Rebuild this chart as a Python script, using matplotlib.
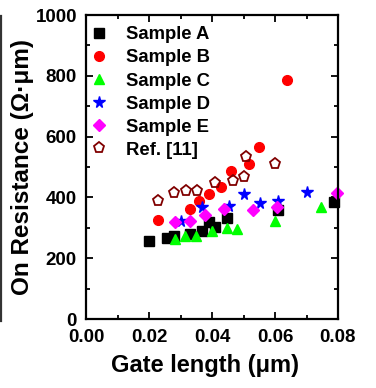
import matplotlib
matplotlib.use("Agg")
import matplotlib.pyplot as plt
from matplotlib.ticker import MultipleLocator
from matplotlib.lines import Line2D

plt.rcParams['font.family'] = ['Liberation Sans', 'DejaVu Sans']
plt.rcParams['font.weight'] = 'bold'

a_x = [0.020, 0.0258, 0.0279, 0.0329, 0.0368, 0.0389, 0.0411, 0.0449, 0.0608, 0.0786]
a_y = [257, 265, 272, 280, 290, 318, 304, 332, 357, 384]
b_x = [0.0229, 0.0329, 0.0358, 0.0389, 0.0429, 0.0459, 0.0519, 0.0549, 0.0639]
b_y = [327, 361, 388, 412, 433, 487, 511, 566, 786]
c_x = [0.0281, 0.0313, 0.0349, 0.0400, 0.0447, 0.0479, 0.0600, 0.0747]
c_y = [264, 274, 274, 288, 299, 296, 321, 368]
d_x = [0.0302, 0.0368, 0.0453, 0.0500, 0.0551, 0.0611, 0.0700]
d_y = [323, 370, 373, 411, 383, 387, 417]
e_x = [0.0281, 0.0329, 0.0379, 0.0439, 0.0529, 0.0607, 0.0797]
e_y = [318, 321, 343, 363, 358, 368, 416]
r_x = [0.0229, 0.0279, 0.0319, 0.0351, 0.0410, 0.0468, 0.0500, 0.0508, 0.0600]
r_y = [389, 414, 422, 422, 449, 453, 468, 533, 510]

fig = plt.figure(figsize=(3.76, 3.88), dpi=100)
ax = fig.add_axes([86/376, 69/388, 252/376, 304/388])

ax.plot(a_x, a_y, 's', color='black', ms=6.5, label='Sample A', clip_on=False)
ax.plot(b_x, b_y, 'o', color='red', ms=7, label='Sample B', clip_on=False)
ax.plot(c_x, c_y, '^', color='#00ff00', ms=7.5, label='Sample C', clip_on=False)
ax.plot(d_x, d_y, '*', color='blue', ms=8.5, label='Sample D', clip_on=False)
ax.plot(e_x, e_y, 'D', color='magenta', ms=6.5, label='Sample E', clip_on=False)
ax.plot(r_x, r_y, 'p', mfc='none', mec='#800000', mew=1.3, ms=8, label='Ref. [11]', clip_on=False)

ax.set_xlim(0, 0.08)
ax.set_ylim(0, 1000)
ax.xaxis.set_minor_locator(MultipleLocator(0.01))
ax.yaxis.set_major_locator(MultipleLocator(200))
ax.yaxis.set_minor_locator(MultipleLocator(100))
ax.set_xticks([0, 0.02, 0.04, 0.06, 0.08])
ax.set_xticklabels(['0.00', '0.02', '0.04', '0.06', '0.08'])
ax.tick_params(which='both', direction='in', top=True, right=True, width=1.3)
ax.tick_params(which='major', length=5, labelsize=13.5)
ax.tick_params(axis='x', which='major', pad=7)
ax.tick_params(axis='y', which='major', pad=6.5)
ax.tick_params(which='minor', length=3)
for lbl in ax.get_xticklabels() + ax.get_yticklabels():
    lbl.set_fontweight('bold')
for s in ax.spines.values():
    s.set_linewidth(1.6)

ax.set_xlabel('Gate length (\u03bcm)', fontsize=17, fontweight='bold', labelpad=5)
ax.xaxis.set_label_coords(0.474, -0.115)
ax.set_ylabel('On Resistance (\u03a9\u00b7\u03bcm)', fontsize=17.5, fontweight='bold', labelpad=1)

leg = ax.legend(loc='upper left', bbox_to_anchor=(-0.007, 0.981), frameon=False,
                numpoints=1, fontsize=13.3, handlelength=1.0, handletextpad=0.94,
                labelspacing=0.33, borderaxespad=0.0, borderpad=0.3)
for t in leg.get_texts():
    t.set_fontweight('bold')

# sliver of neighbouring panel's spine at left edge
fig.add_artist(Line2D([1.5/376, 1.5/376], [67/388, 372/388], color='#333333', lw=1.6,
                      transform=fig.transFigure))

fig.savefig('out.png', dpi=100)
